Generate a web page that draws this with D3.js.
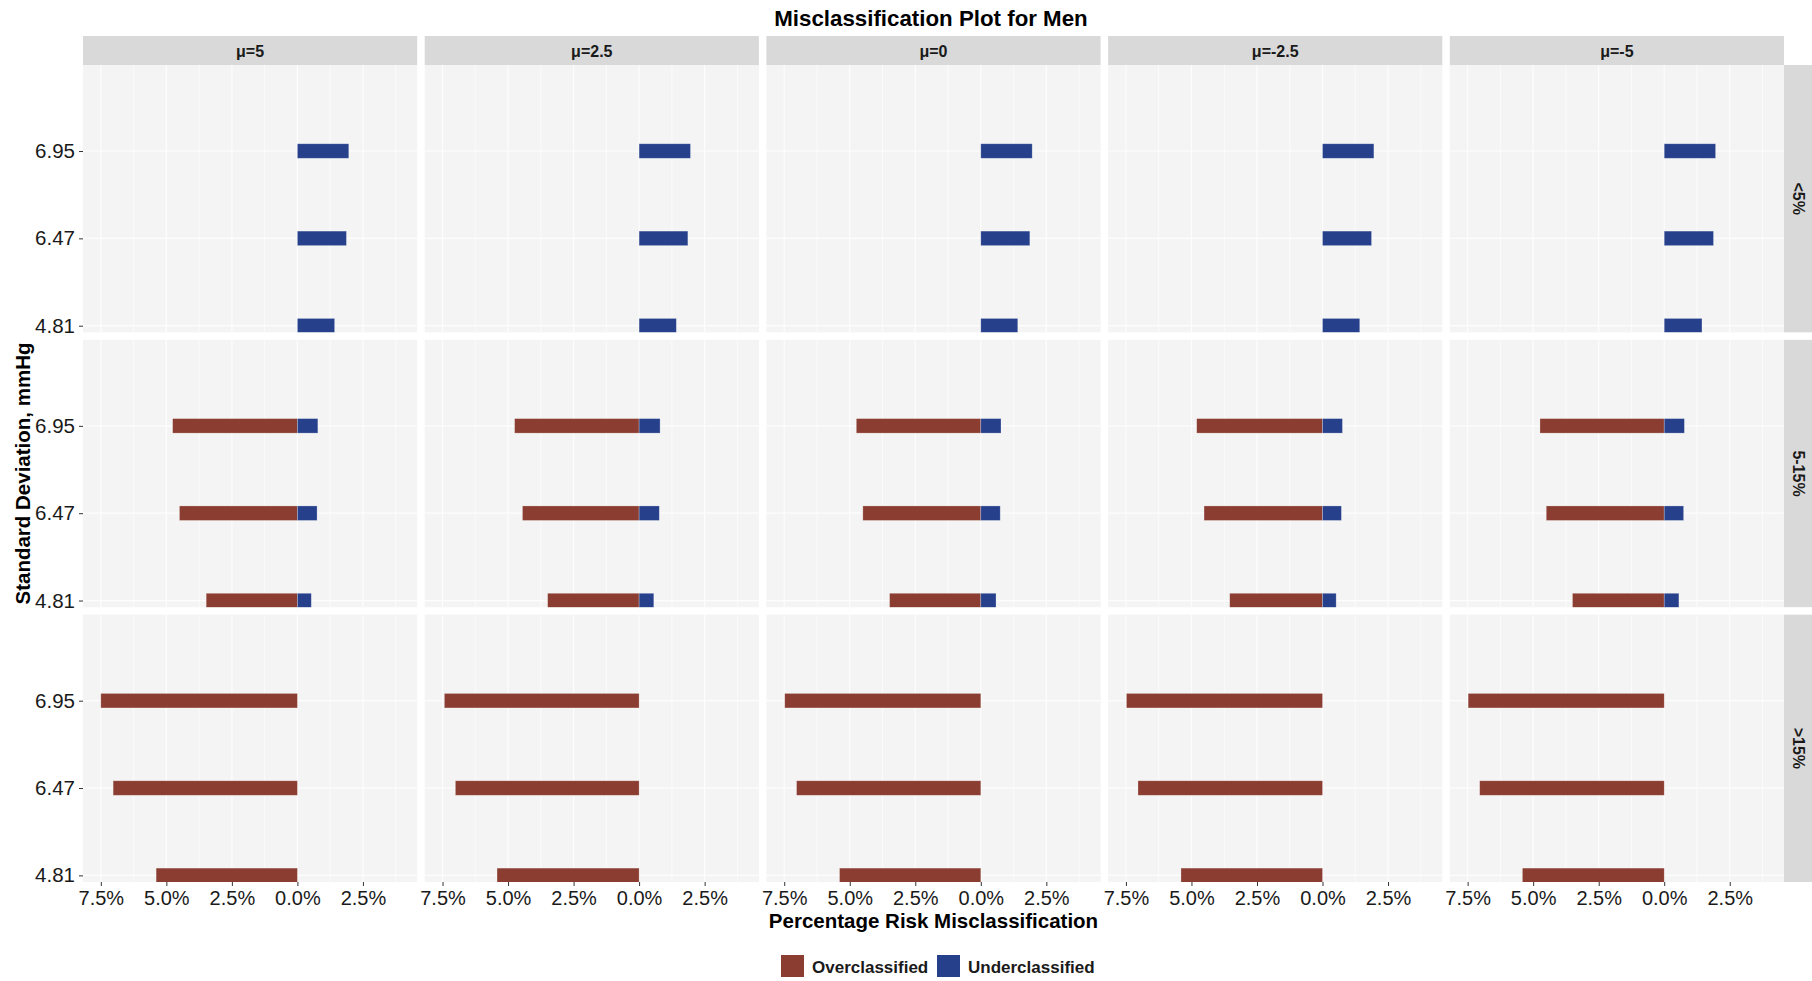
<!DOCTYPE html>
<html>
<head>
<meta charset="utf-8">
<script src="https://cdn.jsdelivr.net/npm/d3@7"></script>
<style>
  body { margin: 0; background: #fff; }
  text { font-family: "Liberation Sans", Arial, sans-serif; }
</style>
</head>
<body>
<svg id="chart"></svg>
<script>
// facets
const muLabels = ["μ=5", "μ=2.5", "μ=0", "μ=-2.5", "μ=-5"];
const riskLabels = ["<5%", "5-15%", ">15%"];
// y levels, bottom to top
const sdLabels = ["4.81", "6.47", "6.95"];
const xTicks = [-7.5, -5, -2.5, 0, 2.5];
const xMinor = [-6.25, -3.75, -1.25, 1.25, 3.75];

// % misclassified, one row per mu, values in sdLabels order
const overLow = [[0, 0, 0], [0, 0, 0], [0, 0, 0], [0, 0, 0], [0, 0, 0]];
const underLow = [[1.42, 1.87, 1.96], [1.42, 1.86, 1.96], [1.41, 1.87, 1.96], [1.42, 1.87, 1.96], [1.44, 1.88, 1.96]];
const overMid = [[3.48, 4.5, 4.76], [3.49, 4.45, 4.75], [3.48, 4.5, 4.75], [3.54, 4.52, 4.8], [3.5, 4.5, 4.74]];
const underMid = [[0.53, 0.75, 0.78], [0.56, 0.77, 0.8], [0.58, 0.74, 0.77], [0.52, 0.72, 0.76], [0.56, 0.74, 0.77]];
const overHigh = [[5.39, 7.03, 7.5], [5.42, 7.01, 7.43], [5.39, 7.03, 7.48], [5.4, 7.04, 7.48], [5.41, 7.04, 7.48]];
const underHigh = [[0, 0, 0], [0, 0, 0], [0, 0, 0], [0, 0, 0], [0, 0, 0]];

const overByRisk = [overLow, overMid, overHigh];
const underByRisk = [underLow, underMid, underHigh];

const colours = { Overclassified: "#8B3D31", Underclassified: "#27408B" };

const width = 1812, height = 981;
const svg = d3.select("#chart").attr("width", width).attr("height", height);

const colScale = d3.scaleBand().domain(muLabels).range([83, 1784]).paddingInner(0.022);
const rowScale = d3.scaleBand().domain(riskLabels).range([65, 882]).paddingInner(0.0273);
const panelW = colScale.bandwidth();
const panelH = rowScale.bandwidth();

const xScale = d3.scaleLinear().domain([-8.18, 4.57]).range([0, panelW]);
const yScale = d3.scaleLinear().domain([0.924, 3.985]).range([panelH, 0]);
const barHalf = 0.083;

// build flat bar list
const bars = [];
muLabels.forEach((mu, mi) => {
  riskLabels.forEach((risk, ri) => {
    sdLabels.forEach((sd, si) => {
      const o = overByRisk[ri][mi][si];
      const u = underByRisk[ri][mi][si];
      if (o > 0) bars.push({ mu, risk, level: si + 1, x0: -o, x1: 0, type: "Overclassified" });
      if (u > 0) bars.push({ mu, risk, level: si + 1, x0: 0, x1: u, type: "Underclassified" });
    });
  });
});

// title
svg.append("text")
  .attr("x", 931).attr("y", 26)
  .attr("text-anchor", "middle")
  .style("font-size", "22.3px").style("font-weight", "bold")
  .text("Misclassification Plot for Men");

// column strips
muLabels.forEach((mu) => {
  const g = svg.append("g").attr("transform", `translate(${colScale(mu)},36)`);
  g.append("rect").attr("width", panelW).attr("height", 29).attr("fill", "#D9D9D9");
  g.append("text")
    .attr("x", panelW / 2).attr("y", 20.5)
    .attr("text-anchor", "middle")
    .style("font-size", "16px").style("font-weight", "bold").attr("fill", "#1a1a1a")
    .text(mu);
});

// row strips
riskLabels.forEach((risk) => {
  const g = svg.append("g").attr("transform", `translate(1784,${rowScale(risk)})`);
  g.append("rect").attr("width", 28).attr("height", panelH).attr("fill", "#D9D9D9");
  g.append("text")
    .attr("transform", `translate(9,${panelH / 2}) rotate(90)`)
    .attr("text-anchor", "middle")
    .style("font-size", "16px").style("font-weight", "bold").attr("fill", "#1a1a1a")
    .text(risk);
});

// panels
muLabels.forEach((mu, mi) => {
  riskLabels.forEach((risk, ri) => {
    const g = svg.append("g").attr("transform", `translate(${colScale(mu)},${rowScale(risk)})`);
    const clipId = `clip-${mi}-${ri}`;
    g.append("clipPath").attr("id", clipId)
      .append("rect").attr("width", panelW).attr("height", panelH);

    g.append("rect").attr("width", panelW).attr("height", panelH).attr("fill", "#F4F4F4");

    g.selectAll(".minor").data(xMinor).enter().append("line")
      .attr("x1", (d) => xScale(d)).attr("x2", (d) => xScale(d))
      .attr("y1", 0).attr("y2", panelH)
      .attr("stroke", "#fcfcfc").attr("stroke-width", 0.8);
    g.selectAll(".major").data(xTicks).enter().append("line")
      .attr("x1", (d) => xScale(d)).attr("x2", (d) => xScale(d))
      .attr("y1", 0).attr("y2", panelH)
      .attr("stroke", "#fdfdfd").attr("stroke-width", 1.2);
    g.selectAll(".hmajor").data([1, 2, 3]).enter().append("line")
      .attr("x1", 0).attr("x2", panelW)
      .attr("y1", (d) => yScale(d)).attr("y2", (d) => yScale(d))
      .attr("stroke", "#fdfdfd").attr("stroke-width", 1.2);

    g.append("g").attr("clip-path", `url(#${clipId})`)
      .selectAll("rect")
      .data(bars.filter((d) => d.mu == mu && d.risk == risk))
      .enter().append("rect")
      .attr("x", (d) => xScale(d.x0))
      .attr("width", (d) => xScale(d.x1) - xScale(d.x0))
      .attr("y", (d) => yScale(d.level + barHalf))
      .attr("height", (d) => yScale(d.level - barHalf) - yScale(d.level + barHalf))
      .attr("fill", (d) => colours[d.type])
      .attr("stroke", "#fff").attr("stroke-opacity", 0.35).attr("stroke-width", 0.7);

    // x axis on bottom row
    if (ri == riskLabels.length - 1) {
      const xAxis = d3.axisBottom(xScale).tickValues(xTicks).tickSize(4).tickPadding(5)
        .tickFormat((d) => Math.abs(d).toFixed(1) + "%");
      const xAxisG = g.append("g").attr("transform", `translate(0,${panelH})`).call(xAxis);
      xAxisG.select(".domain").remove();
      xAxisG.selectAll("line").attr("stroke", "#333");
      xAxisG.selectAll("text").style("font-size", "20px").attr("fill", "#1a1a1a")
        .style("font-family", "'Liberation Sans', Arial, sans-serif");
    }
    // y axis on first column
    if (mi == 0) {
      const yAxis = d3.axisLeft(yScale).tickValues([1, 2, 3]).tickSize(4).tickPadding(4)
        .tickFormat((d) => sdLabels[d - 1]);
      const yAxisG = g.append("g").call(yAxis);
      yAxisG.select(".domain").remove();
      yAxisG.selectAll("line").attr("stroke", "#333");
      yAxisG.selectAll("text").style("font-size", "20.5px").attr("fill", "#1a1a1a")
        .style("font-family", "'Liberation Sans', Arial, sans-serif");
    }
  });
});

// axis titles
svg.append("text")
  .attr("x", (83 + 1784) / 2).attr("y", 928)
  .attr("text-anchor", "middle")
  .style("font-size", "20.5px").style("font-weight", "bold")
  .text("Percentage Risk Misclassification");
svg.append("text")
  .attr("transform", `translate(29.5,${(65 + 882) / 2}) rotate(-90)`)
  .attr("text-anchor", "middle")
  .style("font-size", "20.5px").style("font-weight", "bold")
  .text("Standard Deviation, mmHg");

// legend
const legendItems = [
  { label: "Overclassified", x: 781 },
  { label: "Underclassified", x: 937 }
];
const legend = svg.selectAll(".legend").data(legendItems).enter().append("g")
  .attr("transform", (d) => `translate(${d.x},955)`);
legend.append("rect").attr("width", 23).attr("height", 22)
  .attr("fill", (d) => colours[d.label]);
legend.append("text").attr("x", 31).attr("y", 18)
  .style("font-size", "17px").style("font-weight", "bold").attr("fill", "#1a1a1a")
  .text((d) => d.label);
</script>
</body>
</html>
